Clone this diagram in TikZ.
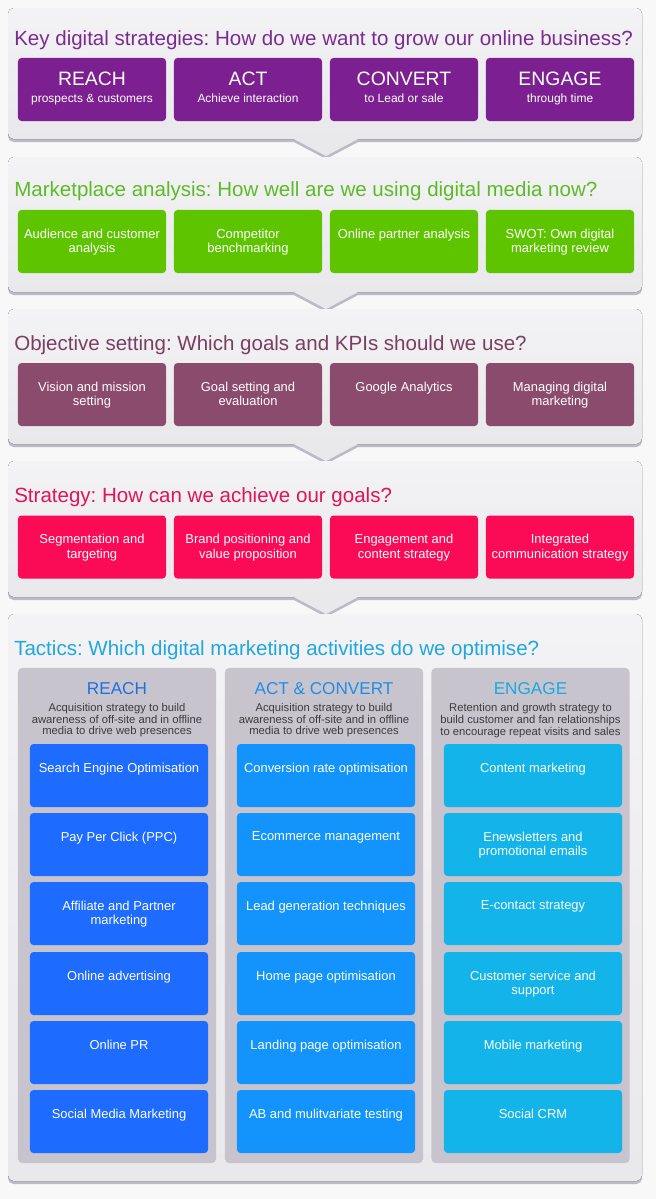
\documentclass[tikz,border=0pt]{standalone}
\usepackage{fontspec}
\setmainfont{Liberation Sans}
\usepackage{xcolor}
\usepackage{tikz}
\usetikzlibrary{positioning}
\frenchspacing
\definecolor{bgc}{HTML}{F8F8F9}
\definecolor{panelTop}{HTML}{F3F3F5}
\definecolor{panelBot}{HTML}{E9E9EC}
\definecolor{shadowc}{HTML}{BDB9C6}
\definecolor{purpleT}{HTML}{7B2B8F}
\definecolor{purpleB}{HTML}{7C1F90}
\definecolor{greenT}{HTML}{5CBB27}
\definecolor{greenB}{HTML}{5EC400}
\definecolor{mauveT}{HTML}{7A3E62}
\definecolor{mauveB}{HTML}{8A4B6C}
\definecolor{redT}{HTML}{E0135C}
\definecolor{redB}{HTML}{FB0A55}
\definecolor{tactT}{HTML}{1FA8DC}
\definecolor{headA}{HTML}{1F6FE0}
\definecolor{headB}{HTML}{1F8EE6}
\definecolor{headC}{HTML}{1BA9DE}
\definecolor{cellA}{HTML}{1E6BFF}
\definecolor{cellB}{HTML}{1294FC}
\definecolor{cellC}{HTML}{12B4EA}
\definecolor{colgray}{HTML}{C8C4CD}
\definecolor{desc}{HTML}{3C3C3C}
\begin{document}
\begin{tikzpicture}[x=0.025cm,y=-0.025cm,line join=round,
  panel/.style={top color=panelTop,bottom color=panelBot,rounded corners=4pt},
  pshadow/.style={fill=shadowc,rounded corners=4pt},
  ttl/.style={anchor=base west,inner sep=0pt,font=\fontsize{14.6}{16}\selectfont},
  tbox/.style={rectangle,rounded corners=2.5pt,inner sep=0pt,outer sep=0pt,minimum width=3.7cm,minimum height=1.575cm},
  cbox/.style={rectangle,rounded corners=2.5pt,inner sep=0pt,outer sep=0pt,minimum width=4.45cm,minimum height=1.575cm},
  colbox/.style={rectangle,rounded corners=3pt,inner sep=0pt,outer sep=0pt,fill=colgray,minimum width=4.95cm,minimum height=12.375cm},
  bigtxt/.style={anchor=base,inner sep=0pt,text=white,font=\fontsize{13.8}{15}\selectfont},
  subtxt/.style={anchor=base,inner sep=0pt,text=white,font=\fontsize{8.5}{10}\selectfont},
  btxt/.style={inner sep=0pt,text=white,align=center,font=\fontsize{9.2}{10.3}\selectfont},
  headtxt/.style={anchor=base,inner sep=0pt,font=\fontsize{12.2}{14}\selectfont},
  desctxt/.style={anchor=north,inner sep=0pt,text=desc,align=center,font=\fontsize{8}{7.45}\selectfont}]
  \useasboundingbox[fill=bgc] (0,0) rectangle (656,1199);
  \fill[pshadow] (8,11) rectangle (642,142);
  \fill[shadowc] (292,141) -- (326,159) -- (360,141) -- cycle;
  \fill[panel] (8,8) rectangle (642,139);
  \fill[panelBot] (292,138) -- (326,156) -- (360,138) -- cycle;
  \fill[pshadow] (8,160) rectangle (642,295);
  \fill[shadowc] (292,294) -- (326,312) -- (360,294) -- cycle;
  \fill[panel] (8,157) rectangle (642,292);
  \fill[panelBot] (292,291) -- (326,309) -- (360,291) -- cycle;
  \fill[pshadow] (8,312) rectangle (642,447);
  \fill[shadowc] (292,446) -- (326,464) -- (360,446) -- cycle;
  \fill[panel] (8,309) rectangle (642,444);
  \fill[panelBot] (292,443) -- (326,461) -- (360,443) -- cycle;
  \fill[pshadow] (8,464) rectangle (642,600);
  \fill[shadowc] (292,599) -- (326,617) -- (360,599) -- cycle;
  \fill[panel] (8,461) rectangle (642,597);
  \fill[panelBot] (292,596) -- (326,614) -- (360,596) -- cycle;
  \fill[pshadow] (8,617) rectangle (642,1184);
  \fill[panel] (8,614) rectangle (642,1181);
  \node[ttl,text=purpleT] (t1) at (14,45) {Key digital strategies: How do we want to grow our online business?};
  \node[ttl,text=greenT] (t2) at (14,196) {Marketplace analysis: How well are we using digital media now?};
  \node[ttl,text=mauveT] (t3) at (14,350) {Objective setting: Which goals and KPIs should we use?};
  \node[ttl,text=redT] (t4) at (14,502) {Strategy: How can we achieve our goals?};
  \node[ttl,text=tactT] (t5) at (14,655) {Tactics: Which digital marketing activities do we optimise?};
  \node[tbox,fill=purpleB] (k1) at (92,89.5) {};
  \node[tbox,fill=purpleB] (k2) at (248,89.5) {};
  \node[tbox,fill=purpleB] (k3) at (404,89.5) {};
  \node[tbox,fill=purpleB] (k4) at (560,89.5) {};
  \node[bigtxt] (k1t) at (92,85) {REACH};
  \node[bigtxt] (k2t) at (248,85) {ACT};
  \node[bigtxt] (k3t) at (404,85) {CONVERT};
  \node[bigtxt] (k4t) at (560,85) {ENGAGE};
  \node[subtxt] (k1s) at (92,102) {prospects \& customers};
  \node[subtxt] (k2s) at (248,102) {Achieve interaction};
  \node[subtxt] (k3s) at (404,102) {to Lead or sale};
  \node[subtxt] (k4s) at (560,102) {through time};
  \node[tbox,fill=greenB] (m1) at (92,241.5) {};
  \node[tbox,fill=greenB] (m2) at (248,241.5) {};
  \node[tbox,fill=greenB] (m3) at (404,241.5) {};
  \node[tbox,fill=greenB] (m4) at (560,241.5) {};
  \node[btxt,below=0.46cm of m1.north] (m1t) {Audience and customer\\analysis};
  \node[btxt,below=0.46cm of m2.north] (m2t) {Competitor\\benchmarking};
  \node[btxt,below=0.46cm of m3.north] (m3t) {Online partner analysis};
  \node[btxt,below=0.46cm of m4.north] (m4t) {SWOT: Own digital\\marketing review};
  \node[tbox,fill=mauveB] (o1) at (92,394.5) {};
  \node[tbox,fill=mauveB] (o2) at (248,394.5) {};
  \node[tbox,fill=mauveB] (o3) at (404,394.5) {};
  \node[tbox,fill=mauveB] (o4) at (560,394.5) {};
  \node[btxt,below=0.46cm of o1.north] (o1t) {Vision and mission\\setting};
  \node[btxt,below=0.46cm of o2.north] (o2t) {Goal setting and\\evaluation};
  \node[btxt,below=0.46cm of o3.north] (o3t) {Google Analytics};
  \node[btxt,below=0.46cm of o4.north] (o4t) {Managing digital\\marketing};
  \node[tbox,fill=redB] (s1) at (92,547) {};
  \node[tbox,fill=redB] (s2) at (248,547) {};
  \node[tbox,fill=redB] (s3) at (404,547) {};
  \node[tbox,fill=redB] (s4) at (560,547) {};
  \node[btxt,below=0.46cm of s1.north] (s1t) {Segmentation and\\targeting};
  \node[btxt,below=0.46cm of s2.north] (s2t) {Brand positioning and\\value proposition};
  \node[btxt,below=0.46cm of s3.north] (s3t) {Engagement and\\content strategy};
  \node[btxt,below=0.46cm of s4.north] (s4t) {Integrated\\communication strategy};
  \node[colbox] (colA) at (117,915.5) {};
  \node[colbox] (colB) at (324,915.5) {};
  \node[colbox] (colC) at (530.5,915.5) {};
  \node[headtxt,text=headA] (hA) at (117,694) {REACH};
  \node[headtxt,text=headB] (hB) at (324,694) {ACT \& CONVERT};
  \node[headtxt,text=headC] (hC) at (530.5,694) {ENGAGE};
  \node[desctxt] (dA) at (117,703.5) {Acquisition strategy to build\\awareness of off-site and in offline\\media to drive web presences};
  \node[desctxt] (dB) at (324,703.5) {Acquisition strategy to build\\awareness of off-site and in offline\\media to drive web presences};
  \node[desctxt] (dC) at (530.5,703.5) {Retention and growth strategy to\\build customer and fan relationships\\to encourage repeat visits and sales};
  \node[cbox,fill=cellA] (a1) at (119,775.5) {};
  \node[cbox,fill=cellA] (a2) at (119,844.5) {};
  \node[cbox,fill=cellA] (a3) at (119,913.5) {};
  \node[cbox,fill=cellA] (a4) at (119,983.5) {};
  \node[cbox,fill=cellA] (a5) at (119,1052.5) {};
  \node[cbox,fill=cellA] (a6) at (119,1121.5) {};
  \node[cbox,fill=cellB] (b1) at (326,775.5) {};
  \node[cbox,fill=cellB] (b2) at (326,844.5) {};
  \node[cbox,fill=cellB] (b3) at (326,913.5) {};
  \node[cbox,fill=cellB] (b4) at (326,983.5) {};
  \node[cbox,fill=cellB] (b5) at (326,1052.5) {};
  \node[cbox,fill=cellB] (b6) at (326,1121.5) {};
  \node[cbox,fill=cellC] (c1) at (533,775.5) {};
  \node[cbox,fill=cellC] (c2) at (533,844.5) {};
  \node[cbox,fill=cellC] (c3) at (533,913.5) {};
  \node[cbox,fill=cellC] (c4) at (533,983.5) {};
  \node[cbox,fill=cellC] (c5) at (533,1052.5) {};
  \node[cbox,fill=cellC] (c6) at (533,1121.5) {};
  \node[btxt,below=0.46cm of a1.north] (a1t) {Search Engine Optimisation};
  \node[btxt,below=0.46cm of a2.north] (a2t) {Pay Per Click (PPC)};
  \node[btxt,below=0.46cm of a3.north] (a3t) {Affiliate and Partner\\marketing};
  \node[btxt,below=0.46cm of a4.north] (a4t) {Online advertising};
  \node[btxt,below=0.46cm of a5.north] (a5t) {Online PR};
  \node[btxt,below=0.46cm of a6.north] (a6t) {Social Media Marketing};
  \node[btxt,below=0.46cm of b1.north] (b1t) {Conversion rate optimisation};
  \node[btxt,below=0.46cm of b2.north] (b2t) {Ecommerce management};
  \node[btxt,below=0.46cm of b3.north] (b3t) {Lead generation techniques};
  \node[btxt,below=0.46cm of b4.north] (b4t) {Home page optimisation};
  \node[btxt,below=0.46cm of b5.north] (b5t) {Landing page optimisation};
  \node[btxt,below=0.46cm of b6.north] (b6t) {AB and mulitvariate testing};
  \node[btxt,below=0.46cm of c1.north] (c1t) {Content marketing};
  \node[btxt,below=0.46cm of c2.north] (c2t) {Enewsletters and\\promotional emails};
  \node[btxt,below=0.46cm of c3.north] (c3t) {E-contact strategy};
  \node[btxt,below=0.46cm of c4.north] (c4t) {Customer service and\\support};
  \node[btxt,below=0.46cm of c5.north] (c5t) {Mobile marketing};
  \node[btxt,below=0.46cm of c6.north] (c6t) {Social CRM};
\end{tikzpicture}
\end{document}
